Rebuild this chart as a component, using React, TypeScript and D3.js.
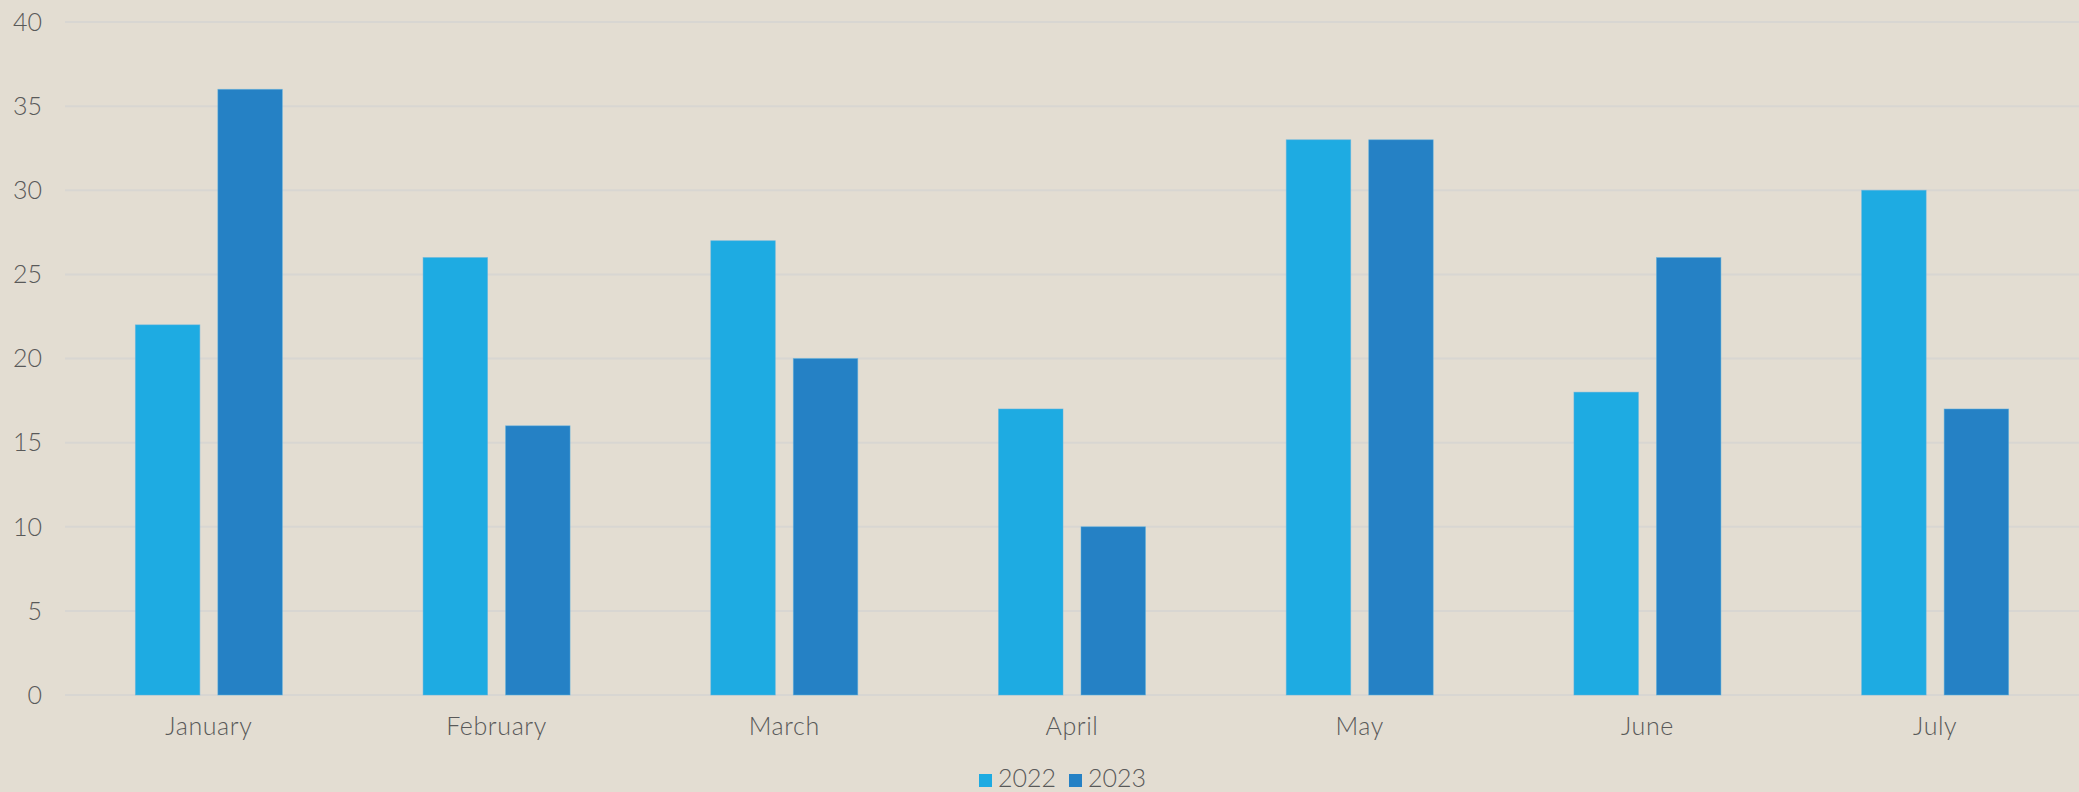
import * as d3 from 'd3';

const months = ['January', 'February', 'March', 'April', 'May', 'June', 'July'];
const series = ['2022', '2023'];
const values2022 = [22, 26, 27, 17, 33, 18, 30];
const values2023 = [36, 16, 20, 10, 33, 26, 17];
const yTicks = [0, 5, 10, 15, 20, 25, 30, 35, 40];

const colors: Record<string, string> = { '2022': '#1eabe2', '2023': '#2581c5' };

export default function App() {
  const width = 2079;
  const height = 792;
  const left = 65;
  const right = 2079;
  const top = 22;
  const bottom = 695;
  const font = "Lato, 'Open Sans', sans-serif";

  const x = d3.scaleBand<string>().domain(months).range([left, right]).paddingInner(0).paddingOuter(0);
  const x1 = d3.scaleBand<string>().domain(series).range([0, x.bandwidth()]).paddingInner(0.218).paddingOuter(0.853);
  const y = d3.scaleLinear().domain([0, 40]).range([bottom, top]);

  const rows = months.map((m, i) => ({ month: m, vals: [values2022[i], values2023[i]] }));

  return (
    <div style={{ position: 'absolute', left: 0, top: 0 }}>
      <svg width={width} height={height} style={{ display: 'block', background: '#e3ddd2' }}>
        {yTicks.map((t) => (
          <g key={t}>
            <line x1={left} x2={right} y1={y(t)} y2={y(t)} stroke="#d8d6d2" strokeWidth={2} />
            <text x={42} y={y(t)} dy="0.35em" textAnchor="end" fontFamily={font} fontWeight={300} fontSize={25} fill="#595959">
              {t}
            </text>
          </g>
        ))}
        {rows.map((r) => (
          <g key={r.month} transform={`translate(${x(r.month)},0)`}>
            {series.map((s, j) => (
              <rect
                key={s}
                x={x1(s)}
                y={y(r.vals[j])}
                width={x1.bandwidth()}
                height={y(0) - y(r.vals[j])}
                fill={colors[s]}
                stroke="#5fb3e0"
                strokeWidth={0.8}
                strokeOpacity={0.6}
              />
            ))}
            <text
              x={x.bandwidth() / 2}
              y={735}
              textAnchor="middle"
              fontFamily={font}
              fontWeight={300}
              fontSize={25}
              letterSpacing={0.6}
              fill="#595959"
            >
              {r.month}
            </text>
          </g>
        ))}
        {series.map((s, i) => (
          <g key={s} transform={`translate(${979 + i * 90},774)`}>
            <rect width={13} height={13} fill={colors[s]} />
            <text x={19} y={13} fontFamily={font} fontWeight={300} fontSize={25} fill="#595959">
              {s}
            </text>
          </g>
        ))}
      </svg>
    </div>
  );
}
